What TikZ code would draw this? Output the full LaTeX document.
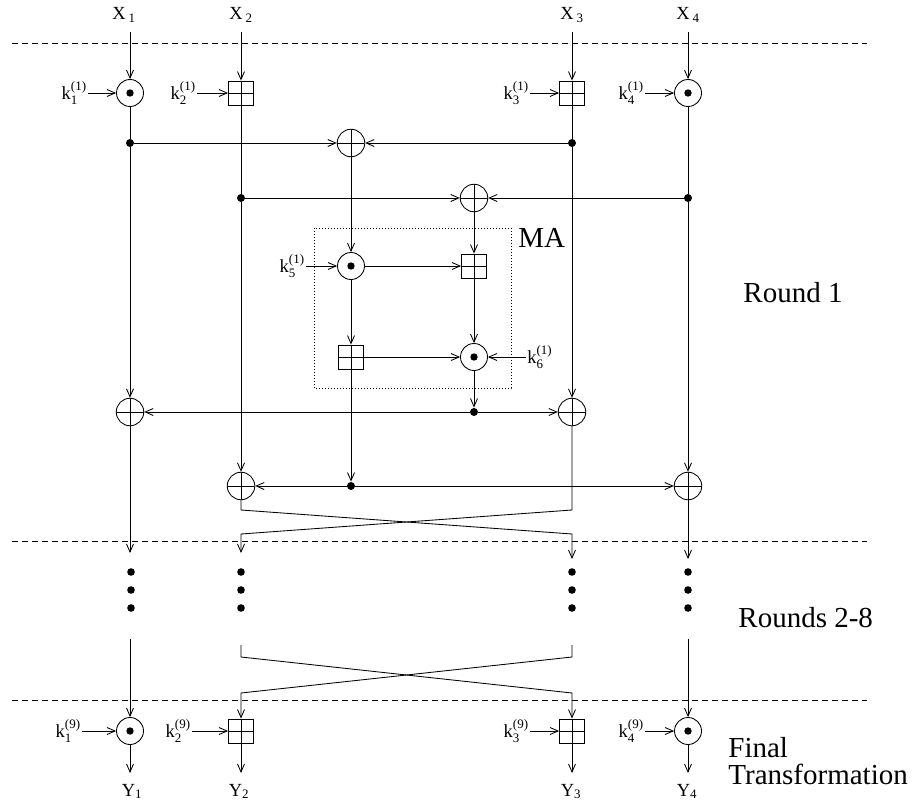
\documentclass[tikz,border=0pt]{standalone}
\usepackage{fontspec}
\setmainfont{Liberation Serif}
\usepackage{amsmath}
\usetikzlibrary{arrows.meta}
\newcommand{\klab}[2]{$\text{k}^{\text{(#1)}}_{\text{#2}}$}
\begin{document}
\begin{tikzpicture}[x=1pt,y=-1pt,line width=0.85pt,
  arr/.style={-{Straight Barb[length=8pt,width=7pt,line width=0.85pt]}},
  mul/.style={circle,draw,minimum size=27pt,inner sep=0pt,
    path picture={\fill (path picture bounding box.center) circle (3.7pt);}},
  xorop/.style={circle,draw,minimum size=27.5pt,inner sep=0pt,
    path picture={\draw (path picture bounding box.north) -- (path picture bounding box.south)
      (path picture bounding box.west) -- (path picture bounding box.east);}},
  addop/.style={rectangle,draw,minimum width=25pt,minimum height=24pt,inner sep=0pt,
    path picture={\draw (path picture bounding box.north) -- (path picture bounding box.south)
      (path picture bounding box.west) -- (path picture bounding box.east);}},
  jdot/.style={circle,fill,inner sep=0pt,minimum size=8pt},
  edot/.style={circle,fill,inner sep=0pt,minimum size=7.6pt},
  small/.style={font=\fontsize{18.5}{21}\selectfont,inner sep=1pt},
  big/.style={font=\fontsize{29}{33}\selectfont,inner sep=0pt},
  sep/.style={dash pattern=on 6pt off 4pt,line width=0.7pt},
  mabox/.style={dash pattern=on 1pt off 2pt,line width=0.7pt}
]
\useasboundingbox (0,0) rectangle (918,808);

% separators
\draw[sep] (12,43) -- (867,43);
\draw[sep] (12,541) -- (867,541);
\draw[sep] (12,700) -- (867,700);

% inputs
\node[small,anchor=base] (X1) at (124,20) {X\hspace{3pt}$_{\text{1}}$};
\node[small,anchor=base] (X2) at (241,20) {X\hspace{3pt}$_{\text{2}}$};
\node[small,anchor=base] (X3) at (572,20) {X\hspace{3pt}$_{\text{3}}$};
\node[small,anchor=base] (X4) at (688,20) {X\hspace{3pt}$_{\text{4}}$};
\coordinate (in1) at (130,32);
\coordinate (in2) at (241,32);
\coordinate (in3) at (572,32);
\coordinate (in4) at (688,32);

% round 1 key layer
\node[mul] (m1) at (130,93) {};
\node[addop] (a2) at (241,93) {};
\node[addop] (a3) at (572,93) {};
\node[mul] (m4) at (688,93) {};
\node[small,anchor=east] (k11) at (88,93) {\klab{1}{1}};
\node[small,anchor=east] (k12) at (197,93) {\klab{1}{2}};
\node[small,anchor=east] (k13) at (530,93) {\klab{1}{3}};
\node[small,anchor=east] (k14) at (645,93) {\klab{1}{4}};
\draw[arr] (in1) -- (m1);
\draw[arr] (in2) -- (a2);
\draw[arr] (in3) -- (a3);
\draw[arr] (in4) -- (m4);
\draw[arr] (k11.east |- m1) -- (m1);
\draw[arr] (k12.east |- a2) -- (a2);
\draw[arr] (k13.east |- a3) -- (a3);
\draw[arr] (k14.east |- m4) -- (m4);

% junctions and first XORs
\node[jdot] (j1) at (130,143) {};
\node[xorop] (x1) at (351,143) {};
\node[jdot] (j3) at (572,143) {};
\node[jdot] (j2) at (241,198) {};
\node[xorop] (x2) at (474,198) {};
\node[jdot] (j4) at (688,198) {};

% MA structure
\draw[mabox] (314,228) rectangle (511,388);
\node[big,anchor=base west] (MA) at (518,247) {MA};
\node[mul] (m5) at (351,266) {};
\node[addop] (a5) at (474,266) {};
\node[addop] (a6) at (351,357) {};
\node[mul] (m6) at (474,357) {};
\node[small,anchor=east] (k15) at (306,266) {\klab{1}{5}};
\node[small,anchor=west] (k16) at (526,357) {\klab{1}{6}};

% output XORs
\node[jdot] (j6) at (474,412) {};
\node[xorop] (x3) at (130,412) {};
\node[xorop] (x4) at (572,412) {};
\node[jdot] (j5) at (351,486) {};
\node[xorop] (x5) at (241,486) {};
\node[xorop] (x6) at (688,486) {};

% wiring of round 1
\draw (m1) -- (j1);
\draw[arr] (j1) -- (x3);
\draw[arr] (j1) -- (x1);
\draw[arr] (j3) -- (x1);
\draw (a2) -- (j2);
\draw[arr] (j2) -- (x5);
\draw[arr] (j2) -- (x2);
\draw (a3) -- (j3);
\draw[arr] (j3) -- (x4);
\draw (m4) -- (j4);
\draw[arr] (j4) -- (x2);
\draw[arr] (j4) -- (x6);
\draw[arr] (x1) -- (m5);
\draw[arr] (x2) -- (a5);
\draw[arr] (k15.east |- m5) -- (m5);
\draw[arr] (m5) -- (a5);
\draw[arr] (m5) -- (a6);
\draw[arr] (a5) -- (m6);
\draw[arr] (a6) -- (m6);
\draw[arr] (k16.west |- m6) -- (m6);
\draw[arr] (m6) -- (j6);
\draw[arr] (j6) -- (x3);
\draw[arr] (j6) -- (x4);
\draw[arr] (a6) -- (j5);
\draw[arr] (j5) -- (x5);
\draw[arr] (j5) -- (x6);

% end of round 1 (swap)
\coordinate (o1) at (130,553);
\coordinate (b2a) at (241,510);
\coordinate (b2b) at (572,534);
\coordinate (o3) at (572,559);
\coordinate (b3a) at (572,510);
\coordinate (b3b) at (241,534);
\coordinate (o2) at (241,553);
\coordinate (o4) at (688,559);
\draw[arr] (x3) -- (o1);
\draw[arr] (x5) -- (b2a) -- (b2b) -- (o3);
\draw[arr] (x4) -- (b3a) -- (b3b) -- (o2);
\draw[arr] (x6) -- (o4);

\node[big,anchor=base west] (R1) at (743,302) {Round 1};

% rounds 2-8 dots
\foreach \cx/\n in {131/1,241/2,572/3,688/4}{
  \node[edot] (e\n a) at (\cx,572) {};
  \node[edot] (e\n b) at (\cx,590) {};
  \node[edot] (e\n c) at (\cx,608) {};
}
\node[big,anchor=base west] (R28) at (738,627) {Rounds 2-8};

% final transformation
\node[mul] (fm1) at (130,731) {};
\node[addop] (fa2) at (241,731) {};
\node[addop] (fa3) at (572,731) {};
\node[mul] (fm4) at (688,731) {};
\node[small,anchor=east] (k91) at (82,731) {\klab{9}{1}};
\node[small,anchor=east] (k92) at (192,731) {\klab{9}{2}};
\node[small,anchor=east] (k93) at (530,731) {\klab{9}{3}};
\node[small,anchor=east] (k94) at (645,731) {\klab{9}{4}};
\draw[arr] (k91.east |- fm1) -- (fm1);
\draw[arr] (k92.east |- fa2) -- (fa2);
\draw[arr] (k93.east |- fa3) -- (fa3);
\draw[arr] (k94.east |- fm4) -- (fm4);

\coordinate (r1) at (130,639);
\coordinate (r2) at (241,645);
\coordinate (c2a) at (241,657);
\coordinate (c2b) at (572,693);
\coordinate (r3) at (572,645);
\coordinate (c3a) at (572,657);
\coordinate (c3b) at (241,693);
\coordinate (r4) at (688,639);
\draw[arr] (r1) -- (fm1);
\draw[arr] (r2) -- (c2a) -- (c2b) -- (fa3);
\draw[arr] (r3) -- (c3a) -- (c3b) -- (fa2);
\draw[arr] (r4) -- (fm4);

\coordinate (y1c) at (130,773);
\coordinate (y2c) at (241,773);
\coordinate (y3c) at (572,773);
\coordinate (y4c) at (688,773);
\draw[arr] (fm1) -- (y1c);
\draw[arr] (fa2) -- (y2c);
\draw[arr] (fa3) -- (y3c);
\draw[arr] (fm4) -- (y4c);
\node[small,anchor=base] (Y1) at (132,796) {Y$_{\text{1}}$};
\node[small,anchor=base] (Y2) at (239,796) {Y$_{\text{2}}$};
\node[small,anchor=base] (Y3) at (571,796) {Y$_{\text{3}}$};
\node[small,anchor=base] (Y4) at (687,796) {Y$_{\text{4}}$};

\node[big,anchor=base west] (FT1) at (728,757) {Final};
\node[big,anchor=base west] (FT2) at (728,784) {Transformation};
\end{tikzpicture}
\end{document}
